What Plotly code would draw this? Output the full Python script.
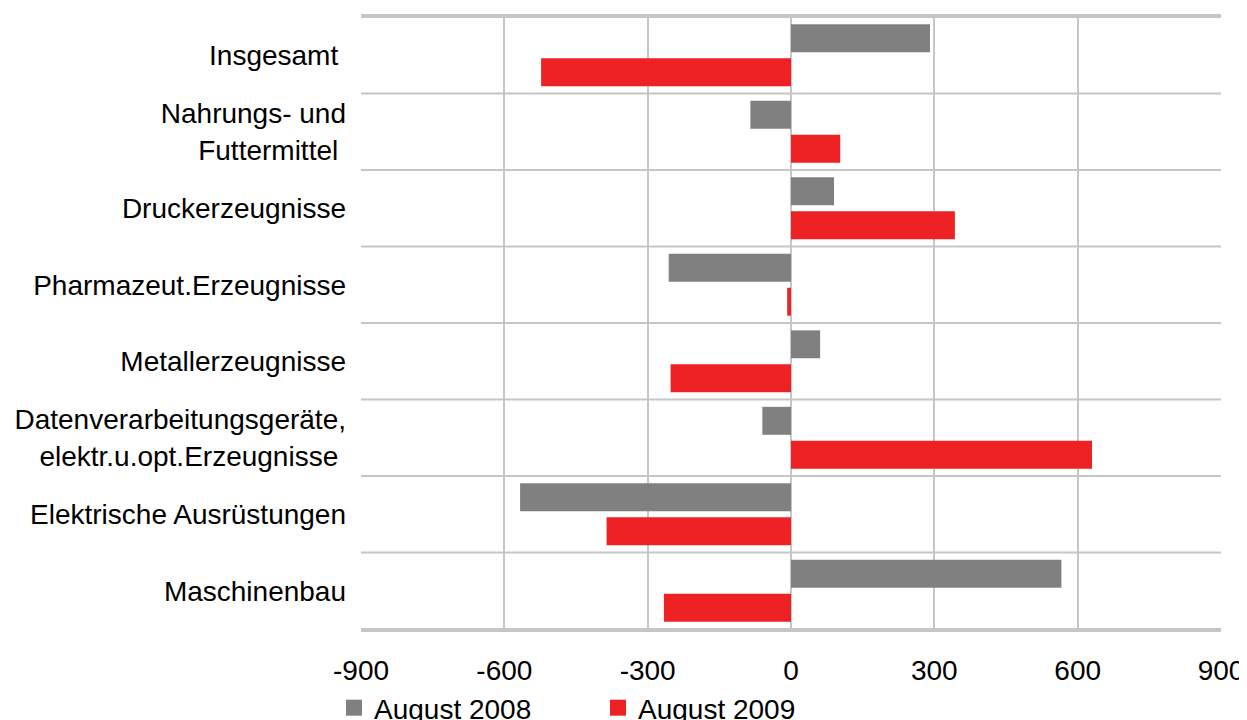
import plotly.graph_objects as go

categories = [
    "Insgesamt ",
    "Nahrungs- und<br>Futtermittel ",
    "Druckerzeugnisse",
    "Pharmazeut.Erzeugnisse",
    "Metallerzeugnisse",
    "Datenverarbeitungsgeräte,<br>elektr.u.opt.Erzeugnisse ",
    "Elektrische Ausrüstungen",
    "Maschinenbau",
]
aug_2008 = [291, -85, 90, -256, 61, -60, -567, 566]
aug_2009 = [-523, 103, 343, -8, -252, 630, -386, -266]
x_ticks = [-900, -600, -300, 0, 300, 600, 900]
series_names = ["August 2008", "August 2009"]
series_colors = ["#808080", "#ee2124"]

GRID = "#c6c6c6"
FONT = "Liberation Sans, Arial, sans-serif"

fig = go.Figure()
for name, vals, col in zip(series_names, [aug_2008, aug_2009], series_colors):
    fig.add_trace(go.Bar(y=categories, x=vals, orientation="h", name=name,
                         marker=dict(color=col, line=dict(width=0)), showlegend=False))
# legend entries with larger square swatches
for name, col in zip(series_names, series_colors):
    fig.add_trace(go.Scatter(x=[None], y=[None], mode="markers", name=name,
                             marker=dict(symbol="square", size=18, color=col)))

for i in range(len(categories) + 1):
    fig.add_shape(type="line", xref="paper", x0=0, x1=1, yref="y",
                  y0=i - 0.5, y1=i - 0.5, line=dict(color=GRID, width=2), layer="below")

fig.update_layout(
    width=1239, height=712,
    margin=dict(l=353, r=26, t=8, b=90, autoexpand=False),
    paper_bgcolor="white", plot_bgcolor="white",
    barmode="group", bargap=0.114, bargroupgap=0.176,
    font=dict(family=FONT, size=28, color="#000000"),
    showlegend=True,
    legend=dict(orientation="h", x=-0.0314, xanchor="left", y=-0.127, yanchor="middle",
                entrywidth=219, entrywidthmode="pixels", itemwidth=30, itemsizing="trace",
                font=dict(family=FONT, size=28), traceorder="normal"),
    xaxis=dict(range=[-900, 900], tickvals=x_ticks, ticktext=[str(v) for v in x_ticks],
               showgrid=True, gridcolor=GRID, gridwidth=2, zeroline=False,
               showline=True, linecolor=GRID, linewidth=2, mirror=True,
               ticks="", ticklabelstandoff=14, automargin=False),
    yaxis=dict(type="category", autorange="reversed", showgrid=False, zeroline=False,
               showline=False, ticks="", ticklabelstandoff=14, automargin=False),
)

fig.write_html("out.html")
